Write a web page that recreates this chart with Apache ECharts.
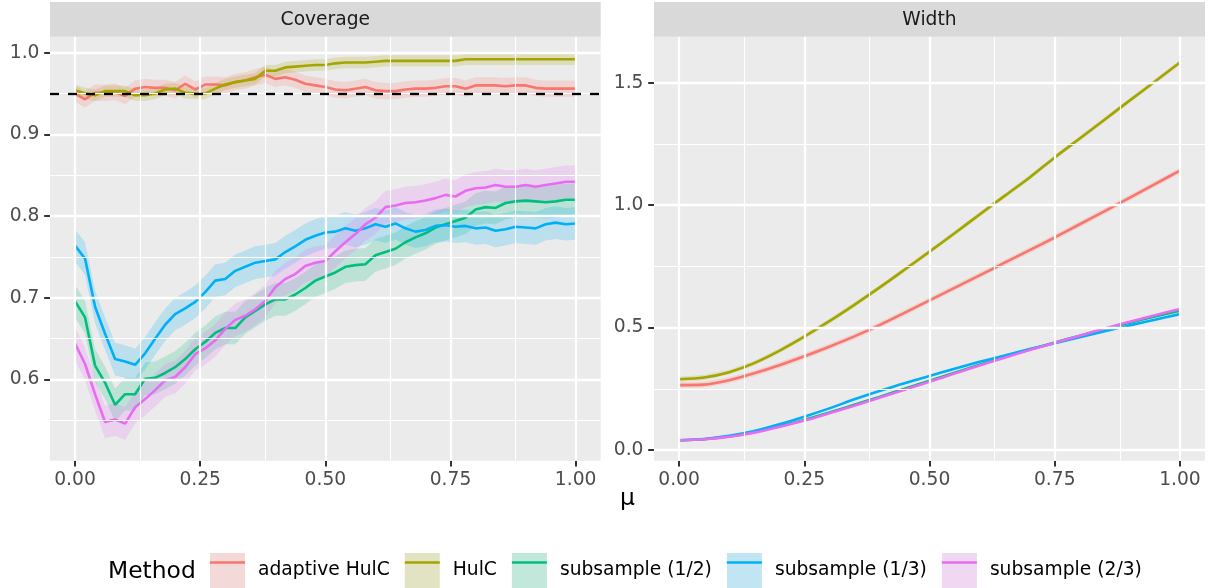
<!DOCTYPE html>
<html>
<head>
<meta charset="utf-8">
<script src="https://cdn.jsdelivr.net/npm/echarts@6.0.0/dist/echarts.min.js"></script>
<style>
html,body{margin:0;padding:0;background:#ffffff;}
#chart{width:1214px;height:588px;}
</style>
</head>
<body>
<div id="chart"></div>
<script>
// ---------------- DATA ----------------
const methods = ['adaptive HulC', 'HulC', 'subsample (1/2)', 'subsample (1/3)', 'subsample (2/3)'];
const panelTitles = ['Coverage', 'Width'];
const xAxisTitle = 'μ';
const legendTitle = 'Method';

// x grid (mu) for the coverage panel
const muCoverage = [0.00,0.02,0.04,0.06,0.08,0.10,0.12,0.14,0.16,0.18,
  0.20,0.22,0.24,0.26,0.28,0.30,0.32,0.34,0.36,0.38,
  0.40,0.42,0.44,0.46,0.48,0.50,0.52,0.54,0.56,0.58,
  0.60,0.62,0.64,0.66,0.68,0.70,0.72,0.74,0.76,0.78,
  0.80,0.82,0.84,0.86,0.88,0.90,0.92,0.94,0.96,0.98,1.00];

const coverageAdaptiveHulC = [0.950,0.943,0.951,0.951,0.952,0.947,0.956,0.958,0.957,0.957,
  0.954,0.962,0.955,0.961,0.961,0.960,0.964,0.966,0.970,0.973,
  0.968,0.970,0.967,0.962,0.960,0.958,0.955,0.954,0.956,0.958,
  0.954,0.953,0.953,0.955,0.956,0.956,0.957,0.959,0.959,0.956,
  0.960,0.960,0.960,0.959,0.960,0.960,0.957,0.956,0.956,0.956,0.956];
const coverageHulC = [0.954,0.950,0.948,0.953,0.953,0.953,0.948,0.948,0.950,0.955,
  0.956,0.951,0.950,0.950,0.956,0.961,0.964,0.966,0.968,0.978,
  0.978,0.982,0.983,0.984,0.985,0.985,0.987,0.988,0.988,0.988,
  0.989,0.990,0.990,0.990,0.990,0.990,0.990,0.990,0.990,0.992,
  0.992,0.992,0.992,0.992,0.992,0.992,0.992,0.992,0.992,0.992,0.992];
const coverageSub12 = [0.696,0.676,0.617,0.596,0.569,0.582,0.582,0.601,0.602,0.608,
  0.615,0.625,0.637,0.646,0.657,0.663,0.663,0.676,0.684,0.692,
  0.698,0.698,0.704,0.712,0.721,0.726,0.731,0.738,0.740,0.741,
  0.752,0.756,0.760,0.768,0.774,0.779,0.786,0.790,0.794,0.798,
  0.808,0.811,0.810,0.816,0.818,0.819,0.818,0.817,0.818,0.820,0.820];
const coverageSub13 = [0.764,0.748,0.689,0.656,0.625,0.622,0.618,0.632,0.650,0.667,
  0.680,0.687,0.695,0.707,0.721,0.723,0.733,0.738,0.743,0.745,
  0.747,0.756,0.763,0.771,0.776,0.780,0.781,0.785,0.782,0.785,
  0.790,0.787,0.791,0.785,0.781,0.783,0.788,0.789,0.787,0.788,
  0.785,0.786,0.782,0.784,0.787,0.786,0.785,0.790,0.792,0.790,0.791];
const coverageSub23 = [0.644,0.619,0.582,0.548,0.551,0.546,0.566,0.576,0.587,0.599,
  0.603,0.615,0.631,0.638,0.648,0.662,0.673,0.678,0.686,0.696,
  0.713,0.723,0.729,0.739,0.743,0.745,0.757,0.768,0.778,0.790,
  0.798,0.811,0.813,0.816,0.817,0.819,0.822,0.826,0.824,0.831,
  0.834,0.835,0.838,0.836,0.836,0.838,0.836,0.838,0.840,0.842,0.842];
// half-width of the confidence ribbon, per method (coverage panel)
const coverageBandHalfWidth = [0.010, 0.007, 0.020, 0.020, 0.020];
const nominalLevel = 0.95;

// x grid (mu) for the width panel
const muWidth = [0.00,0.05,0.10,0.15,0.20,0.25,0.30,0.35,0.40,0.45,
  0.50,0.55,0.60,0.65,0.70,0.75,0.80,0.85,0.90,0.95,1.00];
const widthAdaptiveHulC = [0.265,0.267,0.285,0.313,0.346,0.383,0.422,0.464,0.510,0.560,
  0.611,0.662,0.713,0.765,0.816,0.868,0.922,0.976,1.031,1.086,1.141];
const widthHulC = [0.289,0.296,0.318,0.355,0.405,0.463,0.526,0.593,0.663,0.736,
  0.810,0.885,0.962,1.038,1.113,1.195,1.272,1.350,1.428,1.505,1.583];
const widthSub12 = [0.040,0.044,0.055,0.073,0.097,0.123,0.153,0.185,0.217,0.250,
  0.283,0.316,0.348,0.380,0.410,0.439,0.467,0.494,0.520,0.545,0.569];
const widthSub13 = [0.040,0.045,0.058,0.078,0.105,0.136,0.170,0.207,0.241,0.273,
  0.302,0.332,0.360,0.386,0.412,0.436,0.461,0.485,0.509,0.532,0.555];
const widthSub23 = [0.040,0.044,0.054,0.071,0.094,0.120,0.150,0.181,0.213,0.246,
  0.279,0.312,0.345,0.377,0.408,0.438,0.467,0.496,0.524,0.550,0.576];
const widthBandHalfWidth = [0.012, 0.010, 0.004, 0.004, 0.004];

// ticks / gridlines
const xTicks = [0, 0.25, 0.5, 0.75, 1];
const xMinorGrid = [0.125, 0.375, 0.625, 0.875];
const coverageTicks = [0.6, 0.7, 0.8, 0.9, 1.0];
const coverageMinorGrid = [0.55, 0.65, 0.75, 0.85, 0.95];
const widthTicks = [0, 0.5, 1.0, 1.5];
const widthMinorGrid = [0.25, 0.75, 1.25];
const xLimits = [-0.05, 1.05];
const coverageLimits = [0.5006, 1.0196];
const widthLimits = [-0.0437, 1.688];

// ---------------- STYLE ----------------
const methodColors = ['#F8766D', '#A3A500', '#00BF7D', '#00B0F6', '#E76BF3'];
const FONT = 'DejaVu Sans';
const PANEL_BG = '#EBEBEB';
const KEY_BG = [242, 242, 242];
const RIBBON_ALPHA = 0.2;
const LINE_W = 2.6;
const grids = [
  {left: 50, top: 36.7, width: 550.7, height: 424},
  {left: 654, top: 36.7, width: 551, height: 424}
];
const STRIP_TOP = 2;

function hexToRgb(h) { return [1, 3, 5].map(i => parseInt(h.substr(i, 2), 16)); }
function blendKey(h) {
  const c = hexToRgb(h);
  const r = c.map((v, k) => Math.round(KEY_BG[k] + RIBBON_ALPHA * (v - KEY_BG[k])));
  return 'rgb(' + r.join(',') + ')';
}

const coverageData = [coverageAdaptiveHulC, coverageHulC, coverageSub12, coverageSub13, coverageSub23];
const widthData = [widthAdaptiveHulC, widthHulC, widthSub12, widthSub13, widthSub23];

function gridLineSeries(gi, xMaj, xMin, yMaj, yMin, yLow) {
  const data = [];
  xMin.forEach(v => data.push({xAxis: v, lineStyle: {width: 1.13}}));
  yMin.forEach(v => data.push({yAxis: v, lineStyle: {width: 1.13}}));
  xMaj.forEach(v => data.push({xAxis: v, lineStyle: {width: 2.27}}));
  yMaj.forEach(v => data.push({yAxis: v, lineStyle: {width: 2.27}}));
  return {
    type: 'line', name: 'grid' + gi, xAxisIndex: gi, yAxisIndex: gi, z: 1,
    data: [[xMaj[0], yLow]], symbol: 'none', lineStyle: {width: 0, opacity: 0},
    silent: true, animation: false,
    markLine: {
      silent: true, symbol: ['none', 'none'], label: {show: false}, animation: false,
      emphasis: {disabled: true},
      lineStyle: {color: '#FFFFFF', type: 'solid'},
      data: data
    }
  };
}

// confidence ribbon drawn as one polygon through the axis scales
function bandSeries(gi, xs, ys, half, color) {
  const lo = ys.map(v => v - half);
  const hi = ys.map(v => v + half);
  return {
    type: 'custom', xAxisIndex: gi, yAxisIndex: gi, z: 2, silent: true, animation: false,
    data: xs.map((x, k) => [x, lo[k], hi[k]]),
    encode: {x: 0, y: [1, 2]},
    renderItem: function (params, api) {
      if (params.dataIndex !== 0) return {type: 'group', children: []};
      const top = xs.map((x, k) => api.coord([x, hi[k]]));
      const bot = xs.map((x, k) => api.coord([x, lo[k]])).reverse();
      return {type: 'polygon', shape: {points: top.concat(bot)},
        style: {fill: color, opacity: RIBBON_ALPHA}};
    }
  };
}

function lineSeries(gi, xs, ys, name, color, smooth) {
  return {
    type: 'line', name: name, xAxisIndex: gi, yAxisIndex: gi, z: 3,
    data: xs.map((x, k) => [x, ys[k]]), symbol: 'none', showSymbol: false,
    smooth: smooth ? 0.3 : false,
    itemStyle: {color: color}, lineStyle: {color: color, width: LINE_W},
    emphasis: {disabled: true}, silent: true, animation: false
  };
}

const series = [];
series.push(gridLineSeries(0, xTicks, xMinorGrid, coverageTicks, coverageMinorGrid, coverageLimits[0]));
series.push(gridLineSeries(1, xTicks, xMinorGrid, widthTicks, widthMinorGrid, widthLimits[0]));
methods.forEach((m, i) => {
  series.push(bandSeries(0, muCoverage, coverageData[i], coverageBandHalfWidth[i], methodColors[i]));
  series.push(bandSeries(1, muWidth, widthData[i], widthBandHalfWidth[i], methodColors[i]));
});
methods.forEach((m, i) => {
  series.push(lineSeries(0, muCoverage, coverageData[i], m, methodColors[i], false));
  series.push(lineSeries(1, muWidth, widthData[i], m, methodColors[i], true));
});
series.push({
  type: 'line', name: 'nominal', xAxisIndex: 0, yAxisIndex: 0, z: 4,
  data: [[xTicks[0], nominalLevel]], symbol: 'none', lineStyle: {width: 0, opacity: 0},
  silent: true, animation: false,
  markLine: {
    silent: true, symbol: ['none', 'none'], label: {show: false}, animation: false,
    emphasis: {disabled: true},
    lineStyle: {color: '#000000', width: 2.3, type: [9, 9]},
    data: [{yAxis: nominalLevel}]
  }
});

function xAxisOpt(gi) {
  return {
    type: 'value', gridIndex: gi, min: xLimits[0], max: xLimits[1],
    axisLine: {show: false, onZero: false},
    axisTick: {show: true, customValues: xTicks, length: 5.8, lineStyle: {color: '#333333', width: 2}},
    axisLabel: {customValues: xTicks, formatter: v => v.toFixed(2), color: '#4D4D4D',
      fontSize: 18.7, fontFamily: FONT, margin: 9.5},
    splitLine: {show: false}
  };
}
function yAxisOpt(gi, lim, ticks) {
  return {
    type: 'value', gridIndex: gi, min: lim[0], max: lim[1],
    axisLine: {show: false, onZero: false},
    axisTick: {show: true, customValues: ticks, length: 5.8, lineStyle: {color: '#333333', width: 2}},
    axisLabel: {customValues: ticks, formatter: v => v.toFixed(1), color: '#4D4D4D',
      fontSize: 18.7, fontFamily: FONT, margin: 10.5},
    splitLine: {show: false}
  };
}

const legendCommon = {
  orient: 'horizontal', left: 210, top: 553, padding: 0,
  itemWidth: 35, itemHeight: 35, itemGap: 15, selectedMode: false,
  symbolKeepAspect: true
};
const legendFill = Object.assign({}, legendCommon, {
  data: methods.map((m, i) => ({name: m, icon: 'rect',
    itemStyle: {color: blendKey(methodColors[i]), borderWidth: 0, borderColor: 'transparent'}})),
  textStyle: {fontSize: 18.7, fontFamily: FONT, color: '#000000', padding: [2, 0, 0, 8]}
});
const legendLine = Object.assign({}, legendCommon, {
  data: methods.map((m, i) => ({name: m, icon: 'path://M0,0H35V2.6H0Z',
    itemStyle: {color: methodColors[i], borderWidth: 0, borderColor: 'transparent'}})),
  textStyle: {fontSize: 18.7, fontFamily: FONT, color: 'rgba(0,0,0,0)', padding: [2, 0, 0, 8]}
});

const graphics = [];
grids.forEach((g, gi) => {
  graphics.push({type: 'rect', z: 0, silent: true,
    shape: {x: g.left, y: STRIP_TOP, width: g.width, height: g.top - STRIP_TOP},
    style: {fill: '#D9D9D9'}});
  graphics.push({type: 'text', z: 1, silent: true,
    x: g.left + g.width / 2, y: (STRIP_TOP + g.top) / 2 + 1,
    style: {text: panelTitles[gi], fill: '#1A1A1A', font: '18.7px "' + FONT + '"',
      align: 'center', verticalAlign: 'middle'}});
});
graphics.push({type: 'text', silent: true,
  x: (grids[0].left + grids[1].left + grids[1].width) / 2, y: 499,
  style: {text: xAxisTitle, fill: '#000000', font: '23.4px "' + FONT + '"',
    align: 'center', verticalAlign: 'middle'}});
graphics.push({type: 'text', silent: true, x: 108, y: 572,
  style: {text: legendTitle, fill: '#000000', font: '23.4px "' + FONT + '"',
    align: 'left', verticalAlign: 'middle'}});

const option = {
  animation: false,
  backgroundColor: '#FFFFFF',
  textStyle: {fontFamily: FONT},
  grid: grids.map(g => Object.assign({show: true, backgroundColor: PANEL_BG, borderWidth: 0, containLabel: false}, g)),
  xAxis: [xAxisOpt(0), xAxisOpt(1)],
  yAxis: [yAxisOpt(0, coverageLimits, coverageTicks), yAxisOpt(1, widthLimits, widthTicks)],
  legend: [legendFill, legendLine],
  graphic: graphics,
  series: series
};

const chart = echarts.init(document.getElementById('chart'), null, {renderer: 'canvas', width: 1214, height: 588});
chart.setOption(option);
</script>
</body>
</html>
